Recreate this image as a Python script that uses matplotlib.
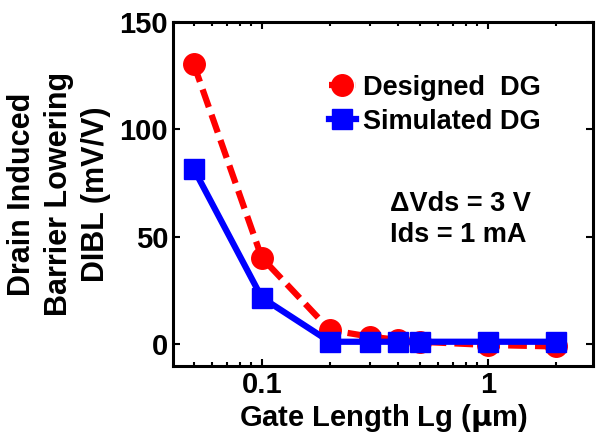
import numpy as np
import matplotlib
matplotlib.use("Agg")
import matplotlib.pyplot as plt
import matplotlib.ticker as ticker

plt.rcParams['font.family'] = ['Liberation Sans', 'DejaVu Sans']
plt.rcParams['font.weight'] = 'bold'
plt.rcParams['mathtext.default'] = 'regular'

gate_length = [0.05, 0.1, 0.2, 0.3, 0.4, 0.5, 1.0, 2.0]
dibl_designed = [130.4, 40.2, 6.5, 3.4, 1.9, 1.0, -0.5, -1.2]
dibl_simulated = [81.6, 21.6, 1.0, 1.0, 1.0, 1.0, 1.0, 1.0]

fig = plt.figure(figsize=(5.96, 4.33), dpi=100)
ax = fig.add_axes([173 / 596, 1 - 366 / 433, (593 - 173) / 596, (366 - 22) / 433])

ax.plot(gate_length, dibl_designed, color='#ff0000', linestyle=(0, (3, 1.3)), linewidth=4.5,
        marker='o', markersize=15.5, label='Designed  DG')
ax.plot(gate_length, dibl_simulated, color='#0000ff', linewidth=4.5,
        marker='s', markersize=14.5, label='Simulated DG')

ax.set_xscale('log')
ax.set_xlim(0.0405, 2.92)
ax.set_ylim(-10.3, 150)
ax.set_yticks([0, 50, 100, 150])
ax.xaxis.set_major_locator(ticker.FixedLocator([0.1, 1]))
ax.xaxis.set_major_formatter(ticker.FixedFormatter(['0.1', '1']))
ax.xaxis.set_minor_locator(ticker.LogLocator(base=10, subs=np.arange(2, 10)))
ax.xaxis.set_minor_formatter(ticker.NullFormatter())

ax.tick_params(which='both', direction='in', top=True, right=True, labelsize=21, width=1.5)
ax.tick_params(which='major', length=5)
ax.tick_params(which='minor', length=3)
for s in ax.spines.values():
    s.set_linewidth(2.2)

ax.set_xlabel('Gate Length Lg ($\\mathbf{\\mu}$m)', fontsize=21, fontweight='bold', labelpad=2)
ax.set_ylabel('Drain Induced\nBarrier Lowering\nDIBL (mV/V)', fontsize=22, fontweight='bold',
              linespacing=1.3, labelpad=6)

ax.legend(loc='upper left', bbox_to_anchor=(0.345, 0.878), frameon=False, fontsize=19.5,
          handlelength=1.0, handletextpad=0.25, labelspacing=0.3, borderaxespad=0)
ax.text(0.517, 0.425, '\u0394Vds = 3 V\nIds = 1 mA', transform=ax.transAxes, fontsize=19.5,
        fontweight='bold', va='center', ha='left', linespacing=1.25)

fig.savefig('out.png', dpi=100)
